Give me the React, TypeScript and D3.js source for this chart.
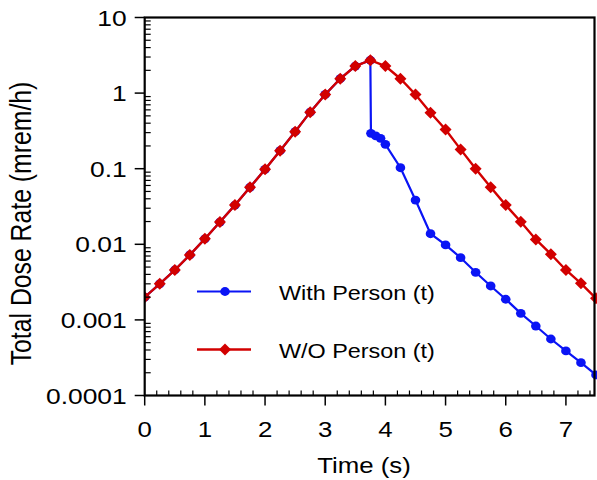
import React from "react";
import * as d3 from "d3";

const redTimes = [0, 0.25, 0.5, 0.75, 1, 1.25, 1.5, 1.75, 2, 2.25, 2.5, 2.75, 3, 3.25, 3.5, 3.75, 4, 4.25, 4.5, 4.75, 5, 5.25, 5.5, 5.75, 6, 6.25, 6.5, 6.75, 7, 7.25, 7.5];
const redValues = [0.002, 0.003, 0.00457, 0.00724, 0.0118, 0.0197, 0.033, 0.0568, 0.098, 0.173, 0.309, 0.56, 0.96, 1.55, 2.28, 2.72, 2.28, 1.55, 0.96, 0.55, 0.33, 0.18, 0.1, 0.057, 0.033, 0.0199, 0.0116, 0.0074, 0.00457, 0.00305, 0.00193];

const blueTimes = [0, 0.25, 0.5, 0.75, 1, 1.25, 1.5, 1.75, 2, 2.25, 2.5, 2.75, 3, 3.25, 3.5, 3.75, 3.76, 3.84, 3.92, 4.0, 4.25, 4.5, 4.75, 5, 5.25, 5.5, 5.75, 6, 6.25, 6.5, 6.75, 7, 7.25, 7.5];
const blueValues = [0.002, 0.003, 0.00457, 0.00724, 0.0118, 0.0197, 0.033, 0.0568, 0.098, 0.173, 0.309, 0.56, 0.96, 1.55, 2.28, 2.72, 0.294, 0.271, 0.252, 0.21, 0.103, 0.0385, 0.0138, 0.0098, 0.00665, 0.00426, 0.00281, 0.001875, 0.00122, 0.00083, 0.000559, 0.000389, 0.000272, 0.000187];

const xTicks = [0, 1, 2, 3, 4, 5, 6, 7];
const yTicks = [10, 1, 0.1, 0.01, 0.001, 0.0001];
const yTickLabels = ["10", "1", "0.1", "0.01", "0.001", "0.0001"];
const seriesNames = ["With Person (t)", "W/O Person (t)"];

const BLUE = "#0a14f5";
const RED = "#d20000";
const FONT = "'Liberation Sans', Arial, sans-serif";
const SX = 1.2;

export default function App() {
  const left = 144.7, right = 596, top = 17.5, bottom = 395.5;
  const x = d3.scaleLinear().domain([0, 7.5]).range([left, right]);
  const y = d3.scaleLog().domain([0.0001, 10]).range([bottom, top]);

  const line = d3.line<[number, number]>().x(d => x(d[0])).y(d => y(d[1]));
  const blueData: [number, number][] = blueTimes.map((t, i) => [t, blueValues[i]]);
  const redData: [number, number][] = redTimes.map((t, i) => [t, redValues[i]]);

  const xMinor: number[] = [];
  for (let v = 0; v <= 7.5001; v += 0.2) {
    const r = Math.round(v * 10) / 10;
    if (Math.abs(r - Math.round(r)) > 1e-6) xMinor.push(r);
  }
  const yMinor: number[] = [];
  for (let e = -4; e < 1; e++) {
    for (let m = 2; m <= 9; m++) yMinor.push(m * Math.pow(10, e));
  }

  const diamond = (cx: number, cy: number, r: number) =>
    `M${cx},${cy - r}L${cx + r},${cy}L${cx},${cy + r}L${cx - r},${cy}Z`;

  const HText = (p: { x: number; y: number; anchor?: string; size: number; children: any }) => (
    <text transform={`translate(${p.x},${p.y}) scale(${SX},1)`} textAnchor={p.anchor || "start"} fontFamily={FONT} fontSize={p.size} fill="#000">{p.children}</text>
  );

  return (
    <svg width={597} height={480} style={{ position: "absolute", left: 0, top: 0, background: "#fff" }}>
      <defs>
        <clipPath id="plotclip">
          <rect x={left} y={top - 10} width={right - left + 10} height={bottom - top + 10} />
        </clipPath>
      </defs>
      {/* series */}
      <g clipPath="url(#plotclip)">
        <path d={line(blueData) || ""} fill="none" stroke={BLUE} strokeWidth={2.2} />
        {blueData.map((d, i) => (
          <ellipse key={"b" + i} cx={x(d[0])} cy={y(d[1])} rx={4.8} ry={4.4} fill={BLUE} />
        ))}
        <path d={line(redData) || ""} fill="none" stroke={RED} strokeWidth={2.4} />
        {redData.map((d, i) => (
          <path key={"r" + i} d={diamond(x(d[0]), y(d[1]), 6)} fill={RED} />
        ))}
      </g>

      {/* frame */}
      <rect x={left} y={top} width={right - 1.5 - left} height={bottom - top} fill="none" stroke="#000" strokeWidth={2.2} />

      {/* x ticks */}
      {xTicks.map(t => (
        <g key={"xt" + t}>
          <line x1={x(t)} x2={x(t)} y1={bottom} y2={bottom + 10} stroke="#000" strokeWidth={1.5} />
          <HText x={x(t)} y={bottom + 41} anchor="middle" size={21.5}>{t}</HText>
        </g>
      ))}
      {xMinor.map(t => (
        <line key={"xm" + t} x1={x(t)} x2={x(t)} y1={bottom} y2={bottom - 5} stroke="#000" strokeWidth={1.2} />
      ))}

      {/* y ticks */}
      {yTicks.map((t, i) => (
        <g key={"yt" + t}>
          <line x1={left - 10} x2={left} y1={y(t)} y2={y(t)} stroke="#000" strokeWidth={1.5} />
          <HText x={left - 18} y={y(t) + 8} anchor="end" size={22}>{yTickLabels[i]}</HText>
        </g>
      ))}
      {yMinor.map(t => (
        <line key={"ym" + t} x1={left} x2={left + 6} y1={y(t)} y2={y(t)} stroke="#000" strokeWidth={1.2} />
      ))}

      {/* axis titles */}
      <HText x={364} y={473} anchor="middle" size={21.5}>Time (s)</HText>
      <text transform={`translate(31,223.5) scale(${SX},1) rotate(-90)`} textAnchor="middle" fontFamily={FONT} fontSize={24.8} fill="#000">Total Dose Rate (mrem/h)</text>

      {/* legend */}
      <g>
        <line x1={197} x2={251} y1={291.5} y2={291.5} stroke={BLUE} strokeWidth={2.2} />
        <ellipse cx={225} cy={291.5} rx={4.8} ry={4.4} fill={BLUE} />
        <HText x={279} y={299.5} size={19.5}>{seriesNames[0]}</HText>
        <line x1={197} x2={251} y1={349.5} y2={349.5} stroke={RED} strokeWidth={2.4} />
        <path d={diamond(225, 349.5, 6)} fill={RED} />
        <HText x={279} y={357.5} size={19.5}>{seriesNames[1]}</HText>
      </g>
    </svg>
  );
}
